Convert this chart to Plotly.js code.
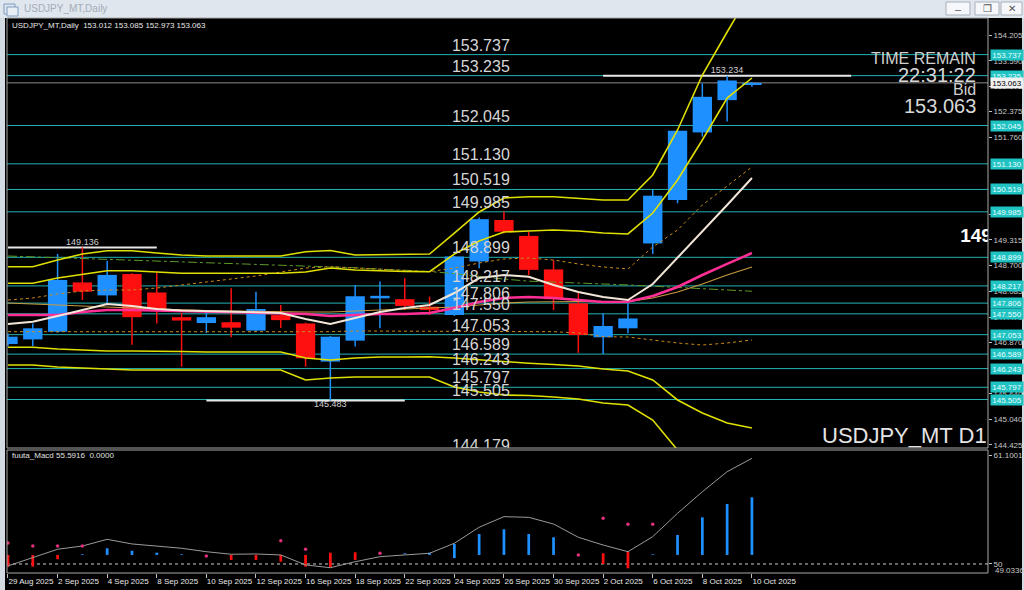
<!DOCTYPE html>
<html><head><meta charset="utf-8">
<script src="https://cdn.plot.ly/plotly-3.0.1.min.js"></script>
<style>html,body{margin:0;padding:0;background:#000;overflow:hidden}#chart{width:1024px;height:590px}</style>
</head><body><div id="chart"></div>
<script>
// ---------------- DATA ----------------
const dates = ['29 Aug 2025','1 Sep 2025','2 Sep 2025','3 Sep 2025','4 Sep 2025','5 Sep 2025','8 Sep 2025','9 Sep 2025','10 Sep 2025','11 Sep 2025','12 Sep 2025','15 Sep 2025','16 Sep 2025','17 Sep 2025','18 Sep 2025','19 Sep 2025','22 Sep 2025','23 Sep 2025','24 Sep 2025','25 Sep 2025','26 Sep 2025','29 Sep 2025','30 Sep 2025','1 Oct 2025','2 Oct 2025','3 Oct 2025','6 Oct 2025','7 Oct 2025','8 Oct 2025','9 Oct 2025','10 Oct 2025'];
const open  = [146.83,146.94,147.124,148.30,147.99,148.50,148.06,147.47,147.33,147.35,147.15,147.52,147.32,146.41,146.91,147.92,147.90,147.72,147.52,148.80,149.79,149.41,148.61,147.80,146.99,147.205,149.23,150.27,151.88,152.65,153.012];
const high  = [147.08,147.32,148.98,149.136,148.82,148.52,148.56,147.57,147.64,148.16,148.08,147.76,147.34,147.02,148.24,148.32,148.40,147.96,148.93,149.85,149.99,149.51,148.83,148.08,147.56,147.80,150.51,151.94,153.05,153.234,153.085];
const low   = [146.78,146.78,147.10,147.88,147.80,146.81,147.32,146.29,147.09,146.99,147.14,147.21,146.29,145.483,146.77,147.205,147.64,147.52,147.50,148.64,149.47,148.48,147.64,146.62,146.59,147.085,148.98,150.19,151.78,152.14,152.973];
const close = [147.005,147.205,148.358,148.08,148.48,147.47,147.62,147.39,147.47,147.22,147.665,147.40,146.49,147.005,147.97,147.98,147.74,147.64,148.92,149.81,149.51,148.60,147.90,147.045,147.26,147.44,150.37,151.92,152.73,153.12,153.063];

const bandUpper2 = [148.675,148.675,148.835,148.978,149.057,149.057,149.002,148.954,148.931,148.931,148.931,148.931,149.033,149.062,148.954,148.966,148.978,148.978,149.479,149.981,150.315,150.346,150.346,150.315,150.267,150.267,150.864,151.938,153.25,154.277,155.28];
const bandUpper1 = [148.279,148.279,148.405,148.501,148.58,148.58,148.549,148.518,148.518,148.518,148.518,148.518,148.549,148.644,148.596,148.573,148.561,148.556,148.978,149.289,149.503,149.527,149.551,149.527,149.479,149.456,149.957,150.744,151.699,152.701,153.179];
const bandLower1 = [146.751,146.751,146.711,146.687,146.663,146.663,146.663,146.651,146.639,146.639,146.639,146.639,146.496,146.448,146.496,146.52,146.52,146.527,146.496,146.448,146.401,146.37,146.341,146.305,146.234,146.186,145.971,145.494,145.184,144.945,144.826];
const bandLower2 = [146.329,146.329,146.281,146.258,146.234,146.21,146.21,146.21,146.21,146.21,146.21,146.21,145.971,146.019,146.043,146.043,146.043,146.043,145.804,145.685,145.613,145.601,145.565,145.518,145.422,145.374,145.016,144.3,143.465,142.63,141.795];
const dotUpper = [147.88,147.928,148.024,148.095,148.119,148.119,148.167,148.238,148.31,148.382,148.453,148.549,148.644,148.675,148.644,148.62,148.596,148.556,148.644,148.763,148.859,148.883,148.835,148.74,148.668,148.62,149.145,149.551,150.148,150.601,151.055];
const dotLower = [147.124,147.124,147.13,147.13,147.13,147.124,147.124,147.12,147.12,147.12,147.124,147.124,147.124,147.124,147.141,147.141,147.141,147.141,147.141,147.141,147.141,147.141,147.124,147.093,147.005,146.997,146.926,146.854,146.806,146.854,146.926];
const dashDot = [148.93,148.91,148.89,148.87,148.86,148.84,148.82,148.80,148.78,148.76,148.74,148.72,148.70,148.68,148.65,148.62,148.59,148.56,148.51,148.44,148.38,148.33,148.31,148.29,148.26,148.24,148.21,148.18,148.15,148.12,148.09];
const maWhite = [147.308,147.363,147.499,147.642,147.785,147.737,147.666,147.63,147.618,147.601,147.594,147.57,147.427,147.308,147.451,147.594,147.689,147.761,148.047,148.405,148.477,148.436,148.238,148.071,147.952,147.88,148.262,148.883,149.503,150.148,150.792];
const maMagenta = [147.522,147.522,147.522,147.594,147.642,147.642,147.63,147.618,147.606,147.594,147.582,147.57,147.546,147.499,147.522,147.546,147.546,147.57,147.689,147.833,147.928,147.952,147.928,147.88,147.833,147.84,147.976,148.191,148.477,148.74,149.002];
const maTan = [147.809,147.785,147.749,147.72,147.713,147.689,147.666,147.642,147.63,147.618,147.606,147.601,147.594,147.594,147.618,147.642,147.666,147.689,147.713,147.761,147.809,147.833,147.845,147.845,147.84,147.84,147.928,148.071,148.262,148.477,148.668];

const levels = [153.737,153.235,152.045,151.130,150.519,149.985,148.899,148.217,147.806,147.550,147.053,146.589,146.243,145.797,145.505,144.179];
const axisTicks = [154.205,153.590,152.975,152.375,151.760,149.930,149.315,148.700,148.085,147.470,146.870,145.640,145.040,144.425];
const hlPrice = [149.136,145.483,153.234];
const hlBar = [3,13,29];
const hlFrom = [0,8,24];
const hlTo = [6,16,34];
const hlIsHigh = [true,false,true];
const bid = 153.063;
const headerText = 'USDJPY_MT,Daily  153.012 153.085 152.973 153.063';

const macdLine = [49.80,50.68,51.50,51.83,52.51,52.04,51.83,51.60,51.25,50.99,51.02,50.92,49.90,49.62,50.23,50.74,50.92,51.09,52.11,53.74,54.82,54.75,54.07,52.72,51.93,51.25,52.78,55.16,57.36,59.40,60.76];
const histTop    = [50.92,50.92,50.92,50.99,51.60,51.35,51.15,50.99,null,50.92,50.92,50.92,50.92,51.15,51.19,null,51.09,51.15,52.04,53.05,53.53,53.05,52.72,null,51.09,51.25,50.99,52.95,54.75,56.11,56.79];
const histBottom = [49.73,49.73,50.48,50.92,50.92,50.92,50.92,50.92,null,50.41,50.41,50.23,49.73,49.62,50.41,null,51.00,50.92,50.60,50.92,50.92,50.92,50.92,null,50.00,49.56,50.92,50.92,50.92,50.92,50.92];
const histDir = [-1,-1,-1,1,1,1,1,1,0,-1,-1,-1,-1,-1,-1,0,1,1,1,1,1,1,1,0,-1,-1,1,1,1,1,1];
const signalDots = [52.14,51.83,51.83,51.83,null,null,null,null,50.81,null,null,52.37,51.50,null,null,51.09,null,null,null,null,null,null,null,50.92,54.65,54.04,54.04,null,null,null,null];
const macdTicks = [61.1001,50];
const macdTickText = ['61.1001','50'];
const macdLow = '49.0336';

// ---------------- GEOMETRY ----------------
const W=1024,H=590,ML=7,MR=36,MT=18,MB=17;
const PW=W-ML-MR, PH=H-MT-MB;
const px = x => (x-ML)/PW;
const py = y => (H-MB-y)/PH;
const idx = dates.map((d,i)=>i);
const FONT = 'Liberation Sans, Arial, sans-serif';
const BLUE = '#1e90ff', RED = '#ff1010', CYAN = '#22b4b4', YEL = '#e0e000';

// ---------------- TRACES ----------------
const traces = [];
function line(y, color, width, dash){
  traces.push({type:'scatter', mode:'lines', x:idx, y:y, line:{color:color, width:width, dash:dash||'solid'}, xaxis:'x', yaxis:'y', hoverinfo:'skip', cliponaxis:true});
}
line(dashDot, '#5f9a2a', 1, 'dashdot');
line(dotUpper, '#c88a1c', 1, 'dot');
line(dotLower, '#c88a1c', 1, 'dot');
line(maTan, '#c89a40', 1.2);
line(maMagenta, '#ff2f96', 2.5);
line(maWhite, '#f2e6d8', 2);
line(bandUpper2, YEL, 1.6);
line(bandUpper1, YEL, 1.6);
line(bandLower1, YEL, 1.6);
line(bandLower2, YEL, 1.6);

// candles: wick + body bars
const candleColor = idx.map(i => close[i] >= open[i] ? BLUE : RED);
traces.push({type:'bar', x:idx, y:idx.map(i=>high[i]-low[i]), base:low, width:0.06,
  marker:{color:candleColor, line:{width:0}}, xaxis:'x', yaxis:'y', hoverinfo:'skip'});
traces.push({type:'bar', x:idx, y:idx.map(i=>Math.max(Math.abs(close[i]-open[i]),0.025)), base:idx.map(i=>Math.min(open[i],close[i])), width:0.78,
  marker:{color:candleColor, line:{width:0}}, xaxis:'x', yaxis:'y', hoverinfo:'skip'});

// level labels (big)
traces.push({type:'scatter', mode:'text', x:levels.map(()=>19.07), y:levels, text:levels.map(v=>v.toFixed(3)),
  textposition:'top center', textfont:{family:FONT, size:16, color:'#d6d6d6'}, cliponaxis:true, xaxis:'x', yaxis:'y', hoverinfo:'skip'});
// high/low marker labels
traces.push({type:'scatter', mode:'text', x:hlBar, y:hlPrice, text:hlPrice.map(v=>v.toFixed(3)),
  textposition:hlIsHigh.map(h=>h?'top center':'bottom center'), textfont:{family:FONT, size:9, color:'#d0d0d0'}, cliponaxis:true, xaxis:'x', yaxis:'y', hoverinfo:'skip'});
// partially visible big price text on the right edge
traces.push({type:'scatter', mode:'text', x:[38.4], y:[149.384], text:['149'], textposition:'middle right',
  textfont:{family:FONT, size:19, color:'#ffffff', weight:'bold'}, cliponaxis:true, xaxis:'x', yaxis:'y', hoverinfo:'skip'});

// MACD panel
const histLen = histTop.map((t,i)=> t===null ? null : t - histBottom[i]);
traces.push({type:'bar', x:idx, y:histLen, base:histBottom, width:0.11,
  marker:{color:histDir.map(d=> d<0 ? RED : BLUE), line:{width:0}}, xaxis:'x', yaxis:'y2', hoverinfo:'skip'});
traces.push({type:'scatter', mode:'lines', x:idx, y:macdLine, line:{color:'#9a9a9a', width:1}, xaxis:'x', yaxis:'y2', hoverinfo:'skip'});
traces.push({type:'scatter', mode:'markers', x:idx, y:signalDots, marker:{color:'#e0307a', size:3.5}, xaxis:'x', yaxis:'y2', hoverinfo:'skip'});

// ---------------- SHAPES ----------------
const shapes = [];
shapes.push({type:'rect', xref:'paper', yref:'paper', x0:px(0), x1:px(W), y0:py(18), y1:py(0), fillcolor:'#dfe6ee', line:{width:0}, layer:'below'});
shapes.push({type:'rect', xref:'paper', yref:'paper', x0:px(4), x1:px(15), y0:py(14), y1:py(4), fillcolor:'rgba(0,0,0,0)', line:{color:'#7d9cc0', width:1}});
shapes.push({type:'rect', xref:'paper', yref:'paper', x0:px(7), x1:px(18), y0:py(16), y1:py(7), fillcolor:'#e8eef4', line:{color:'#7d9cc0', width:1}});
[[946,970],[975,999],[1001,1022]].forEach(b=>{
  shapes.push({type:'rect', xref:'paper', yref:'paper', x0:px(b[0]), x1:px(b[1]), y0:py(15), y1:py(2), fillcolor:'#f5f7fa', line:{color:'#a8b0ba', width:1}});
});
shapes.push({type:'rect', xref:'paper', yref:'paper', x0:px(0), x1:px(5), y0:py(H), y1:py(18), fillcolor:'#d4dae1', line:{width:0}, layer:'below'});
shapes.push({type:'rect', xref:'paper', yref:'paper', x0:px(1022), x1:px(W), y0:py(H), y1:py(18), fillcolor:'#d4dae1', line:{width:0}, layer:'below'});
levels.forEach(v=>{
  shapes.push({type:'line', xref:'paper', yref:'y', x0:0, x1:1, y0:v, y1:v, line:{color:CYAN, width:1}, layer:'below'});
});
shapes.push({type:'line', xref:'paper', yref:'y', x0:0, x1:1, y0:bid, y1:bid, line:{color:'#8c8c8c', width:1}, layer:'below'});
hlPrice.forEach((v,i)=>{
  shapes.push({type:'line', xref:'x', yref:'y', x0:hlFrom[i], x1:hlTo[i], y0:v, y1:v, line:{color:'#e6e6e6', width:2}, layer:'below'});
});
shapes.push({type:'line', xref:'paper', yref:'y2', x0:0, x1:1, y0:50, y1:50, line:{color:'#d0d0d0', width:1, dash:'dot'}, layer:'below'});
shapes.push({type:'rect', xref:'paper', yref:'paper', x0:0, x1:1, y0:py(448), y1:1, line:{color:'#a8a8a8', width:1}, fillcolor:'rgba(0,0,0,0)', layer:'above'});
shapes.push({type:'rect', xref:'paper', yref:'paper', x0:0, x1:1, y0:0, y1:py(450), line:{color:'#a8a8a8', width:1}, fillcolor:'rgba(0,0,0,0)', layer:'above'});

// ---------------- ANNOTATIONS ----------------
const ann = [];
function txt(x, y, text, size, color, xanchor, extra){
  ann.push(Object.assign({xref:'paper', yref:'paper', x:px(x), y:py(y), text:text, showarrow:false,
    xanchor:xanchor||'left', yanchor:'middle', font:{family:FONT, size:size, color:color}}, extra||{}));
}
txt(22, 9, 'USDJPY_MT,Daily', 10, '#a4acb6');
txt(958, 9, '–', 11, '#555', 'center');
txt(987, 9, '❐', 10, '#555', 'center');
txt(1011.5, 9, '✕', 10, '#555', 'center');
txt(10, 26, headerText, 8, '#e8e8e8');
txt(10, 455, 'fuuta_Macd 55.5916  0.0000', 8, '#e0e0e0');
txt(978, 58, 'TIME REMAIN', 16, '#d0d0d0', 'right');
txt(978, 75, '22:31:22', 20, '#d8d8d8', 'right');
txt(978, 89, 'Bid', 16, '#d0d0d0', 'right');
txt(978, 105.5, '153.063', 20, '#d8d8d8', 'right');
txt(989, 435, 'USDJPY_MT D1', 22, '#e4e4e4', 'right');
txt(993, 570, macdLow, 8, '#c8c8c8');
levels.forEach(v=>{
  if (v < 144.35) return;
  ann.push({xref:'paper', yref:'y', x:px(990), y:v, text:v.toFixed(3), showarrow:false, xanchor:'left', yanchor:'middle',
    bgcolor:'#20c2c2', borderpad:0, width:32, height:10, font:{family:FONT, size:8, color:'#e8ffff'}});
});
ann.push({xref:'paper', yref:'y', x:px(990), y:bid, text:bid.toFixed(3), showarrow:false, xanchor:'left', yanchor:'middle',
  bgcolor:'#f2f2f2', borderpad:0, width:32, height:10, font:{family:FONT, size:8, color:'#000'}});

// ---------------- LAYOUT ----------------
const tickIdx = idx.filter(i=>i%2===0);
const layout = {
  width:W, height:H, margin:{l:ML, r:MR, t:MT, b:MB, pad:0},
  paper_bgcolor:'#000', plot_bgcolor:'#000', showlegend:false, hovermode:false,
  barmode:'overlay',
  xaxis:{type:'linear', range:[-0.04,39.52], anchor:'y2', showgrid:false, zeroline:false,
    tickvals:tickIdx, ticktext:tickIdx.map(i=>dates[i]), ticks:'outside', ticklen:4, tickcolor:'#c0c0c0',
    tickangle:0, ticklabelposition:'outside right', tickfont:{family:FONT, size:8, color:'#e8e8e8'},
    fixedrange:true, showline:false},
  yaxis:{domain:[py(448),1], range:[144.348,154.611], side:'right', showgrid:false, zeroline:false,
    tickvals:axisTicks, ticktext:axisTicks.map(v=>v.toFixed(3)), ticks:'outside', ticklen:3, tickcolor:'#c0c0c0',
    tickfont:{family:FONT, size:8, color:'#c8c8c8'}, fixedrange:true, showline:false},
  yaxis2:{domain:[0,py(450)], range:[49.08,61.61], side:'right', showgrid:false, zeroline:false,
    tickvals:macdTicks, ticktext:macdTickText, ticks:'outside', ticklen:3, tickcolor:'#c0c0c0',
    tickfont:{family:FONT, size:8, color:'#c8c8c8'}, fixedrange:true, showline:false},
  shapes:shapes, annotations:ann
};
Plotly.newPlot('chart', traces, layout, {staticPlot:true, displayModeBar:false});
</script></body></html>
